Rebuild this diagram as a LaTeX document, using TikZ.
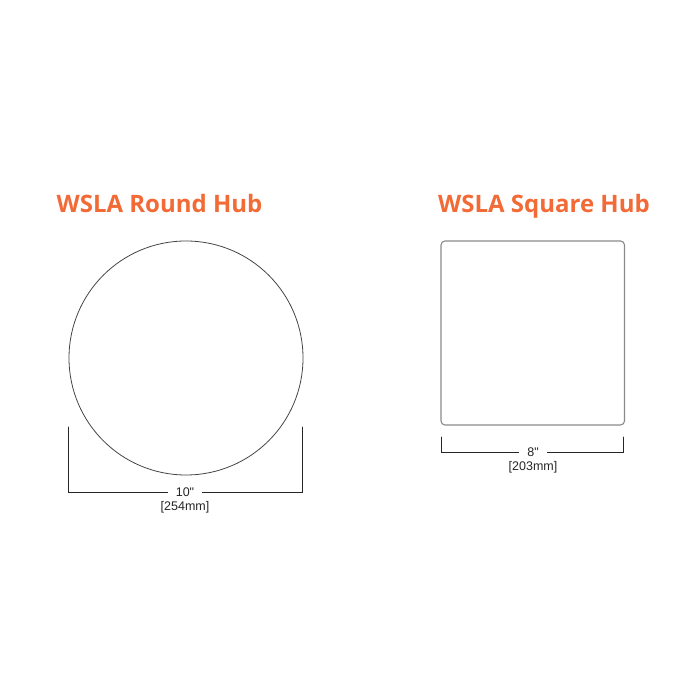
\documentclass[tikz,border=0pt]{standalone}
\usepackage{fontspec}
\setmainfont{Liberation Sans}
\newfontfamily\titlefont{Open Sans}
\usepackage{tkz-euclide}
\definecolor{huborange}{HTML}{F26A36}
\definecolor{hubline}{HTML}{444444}
\definecolor{hubgray}{HTML}{8A8A8A}
\tikzset{
  dimline/.style={line width=0.9pt,color=black!85},
  dimtext/.style={anchor=center,font=\fontsize{12.5}{14}\selectfont,text=black!85},
  hubtitle/.style={anchor=base,font=\titlefont\bfseries\fontsize{24}{28}\selectfont,text=huborange}
}
\begin{document}
\begin{tikzpicture}[x=1pt,y=1pt]
\useasboundingbox (0,0) rectangle (700,700);

% round hub
\tkzDefPoint(159.5,487){tRound}
\tkzLabelPoint[hubtitle](tRound){WSLA Round Hub}

\tkzDefPoint(186,342){O}
\tkzDefPoint(303,342){R}
\tkzDrawCircle[line width=0.8pt,color=hubline](O,R)

  \tkzDefPoint(68,273){rA}
  \tkzDefPoint(68,208){rB}
  \tkzDefPoint(302,208){rC}
  \tkzDefPoint(302,273){rD}
\tkzDrawPolySeg[dimline](rA,rB,rC,rD)

  \tkzDefPoint(185,208){rM}
  \tkzLabelPoint[dimtext,fill=white,inner xsep=8pt,inner ysep=1pt](rM){10\textquotedbl}
  \tkzDefPoint(185,193){rN}
  \tkzLabelPoint[dimtext](rN){[254mm]}


% square hub
\tkzDefPoint(544,487){tSquare}
\tkzLabelPoint[hubtitle](tSquare){WSLA Square Hub}

  \tkzDefPoint(441,459){A}
  \tkzDefPoint(624.5,459){B}
  \tkzDefPoint(624.5,275){C}
  \tkzDefPoint(441,275){D}
\draw[line width=1.1pt,color=hubgray,rounded corners=4pt] (A) -- (B) -- (C) -- (D) -- cycle;

  \tkzDefPoint(441,263){sA}
  \tkzDefPoint(441,248){sB}
  \tkzDefPoint(623.5,248){sC}
  \tkzDefPoint(623.5,263){sD}
\tkzDrawPolySeg[dimline](sA,sB,sC,sD)

  \tkzDefPoint(533,248){sM}
  \tkzLabelPoint[dimtext,fill=white,inner xsep=8pt,inner ysep=1pt](sM){8\textquotedbl}
  \tkzDefPoint(533,233){sN}
  \tkzLabelPoint[dimtext](sN){[203mm]}

\end{tikzpicture}
\end{document}
